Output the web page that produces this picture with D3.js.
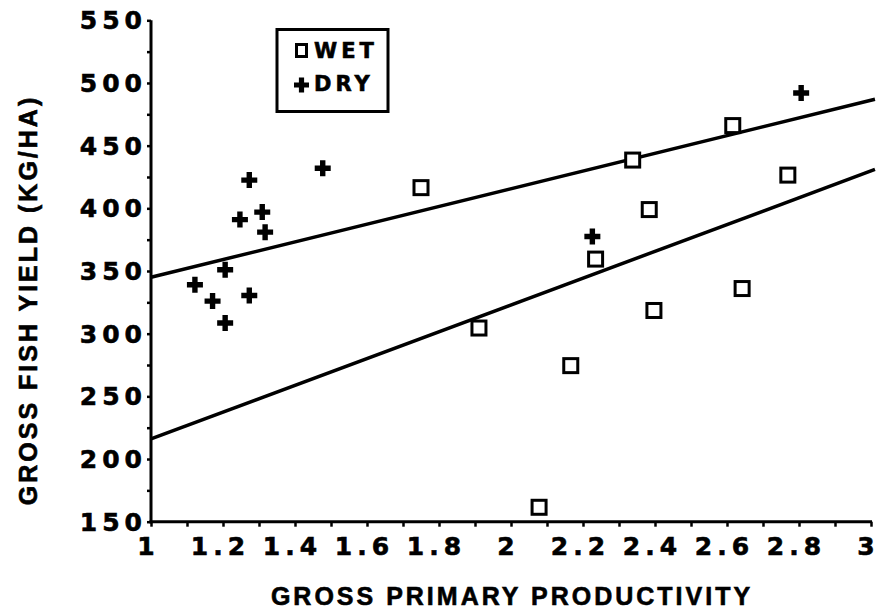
<!DOCTYPE html>
<html>
<head>
<meta charset="utf-8">
<script src="https://cdn.jsdelivr.net/npm/d3@7"></script>
<style>
  html, body { margin: 0; padding: 0; background: #fff; }
  svg { display: block; }
  text { font-weight: bold; fill: #000; stroke: #000; stroke-width: 0.6px; }
  .num { font-family: "DejaVu Sans", "Liberation Sans", sans-serif; }
  .ttl { font-family: "Liberation Sans", Arial, Helvetica, sans-serif; }
</style>
</head>
<body>
<svg id="chart" width="880" height="613"></svg>
<script>
// ---- data ----
const dryX = [1.122, 1.171, 1.206, 1.206, 1.273, 1.247, 1.273, 1.309, 1.317, 1.477, 2.226, 2.806];
const dryY = [339, 326, 308.5, 351, 330.5, 391, 422.5, 397, 381, 432, 377.5, 492];
const wetX = [1.75, 1.911, 2.078, 2.166, 2.235, 2.338, 2.384, 2.397, 2.616, 2.642, 2.769];
const wetY = [416.5, 304.5, 161.5, 274.5, 359.5, 438.5, 399, 318.5, 466, 336, 426.5];
const fitX = [1, 3.011];
const dryFit = [345, 487];
const wetFit = [216, 431];
const xTicks = [1, 1.2, 1.4, 1.6, 1.8, 2, 2.2, 2.4, 2.6, 2.8, 3];
const yTicks = [150, 200, 250, 300, 350, 400, 450, 500, 550];
const legendLabels = ["WET", "DRY"];
const xTitle = "GROSS PRIMARY PRODUCTIVITY";
const yTitle = "GROSS FISH YIELD (KG/HA)";

// ---- layout ----
const svg = d3.select("#chart");
const x = d3.scaleLinear().domain([1, 3]).range([151, 871]);
const y = d3.scaleLinear().domain([150, 550]).range([521.7, 20.3]);
const numSize = 25, numSp = 5;

// regression lines
[dryFit, wetFit].forEach(f => {
  svg.append("path")
    .attr("d", d3.line()(fitX.map((v, i) => [x(v), y(f[i])])))
    .attr("stroke", "#000").attr("stroke-width", 3.5).attr("fill", "none");
});

// axes
const xMinor = d3.range(10, 31).map(v => v / 10);
const yMinor = d3.range(150, 551, 25);

const gx = svg.append("g").attr("transform", `translate(0,${y(150)})`)
  .call(d3.axisBottom(x).tickValues(xMinor).tickSize(5).tickFormat(""));
gx.select(".domain").attr("stroke-width", 3).attr("d", `M${x(1) - 1.5},0H${x(3) + 1}`);
gx.selectAll(".tick line").attr("stroke-width", 2.5);

svg.append("g").selectAll("text").data(xTicks).enter().append("text")
  .attr("class", "num")
  .attr("x", d => x(d) - 5 + numSp / 2)
  .attr("y", 555)
  .attr("text-anchor", "middle")
  .style("font-size", numSize + "px")
  .style("letter-spacing", numSp + "px")
  .text(d => d3.format("")(d));

const gy = svg.append("g").attr("transform", `translate(${x(1)},0)`)
  .call(d3.axisLeft(y).tickValues(yMinor).tickSize(4).tickFormat(""));
gy.select(".domain").attr("stroke-width", 3).attr("d", `M0,${y(550)}V${y(150) + 1.5}`);
gy.selectAll(".tick line").attr("stroke-width", 2.5);

svg.append("g").selectAll("text").data(yTicks).enter().append("text")
  .attr("class", "num")
  .attr("x", 142 + numSp)
  .attr("y", d => y(d) + 9)
  .attr("text-anchor", "end")
  .style("font-size", numSize + "px")
  .style("letter-spacing", numSp + "px")
  .text(d => d);

// axis titles
svg.append("text")
  .attr("class", "ttl")
  .attr("x", 512).attr("y", 605)
  .attr("text-anchor", "middle")
  .style("font-size", "25px")
  .style("letter-spacing", "3px")
  .text(xTitle);

svg.append("text")
  .attr("class", "ttl")
  .attr("transform", "translate(37,300) rotate(-90)")
  .attr("text-anchor", "middle")
  .style("font-size", "25px")
  .style("letter-spacing", "3px")
  .text(yTitle);

// markers
const crossPath = (s, w) => {
  const a = s / 2;
  return `M${-a},${-w}H${-w}V${-a}H${w}V${-w}H${a}V${w}H${w}V${a}H${-w}V${w}H${-a}Z`;
};

svg.append("g").selectAll("rect").data(wetX.map((v, i) => [v, wetY[i]])).enter()
  .append("rect")
  .attr("x", d => x(d[0]) - 7).attr("y", d => y(d[1]) - 7)
  .attr("width", 14).attr("height", 14)
  .attr("fill", "#fff").attr("stroke", "#000").attr("stroke-width", 3);

svg.append("g").selectAll("path").data(dryX.map((v, i) => [v, dryY[i]])).enter()
  .append("path")
  .attr("transform", d => `translate(${x(d[0])},${y(d[1])})`)
  .attr("d", crossPath(16, 2.7))
  .attr("fill", "#000");

// legend
const lg = svg.append("g");
lg.append("rect").attr("x", 277).attr("y", 29.5).attr("width", 111).attr("height", 82)
  .attr("fill", "#fff").attr("stroke", "#000").attr("stroke-width", 3);
lg.append("rect").attr("x", 296.5).attr("y", 44.5).attr("width", 10).attr("height", 12)
  .attr("fill", "#fff").attr("stroke", "#000").attr("stroke-width", 3);
lg.append("path").attr("transform", "translate(301.5,85)").attr("d", crossPath(15, 2.6)).attr("fill", "#000");
lg.selectAll("text").data(legendLabels).enter().append("text")
  .attr("class", "num")
  .attr("x", 314).attr("y", (d, i) => 58 + i * 33)
  .style("font-size", "21px")
  .style("letter-spacing", "4px")
  .text(d => d);
</script>
</body>
</html>
